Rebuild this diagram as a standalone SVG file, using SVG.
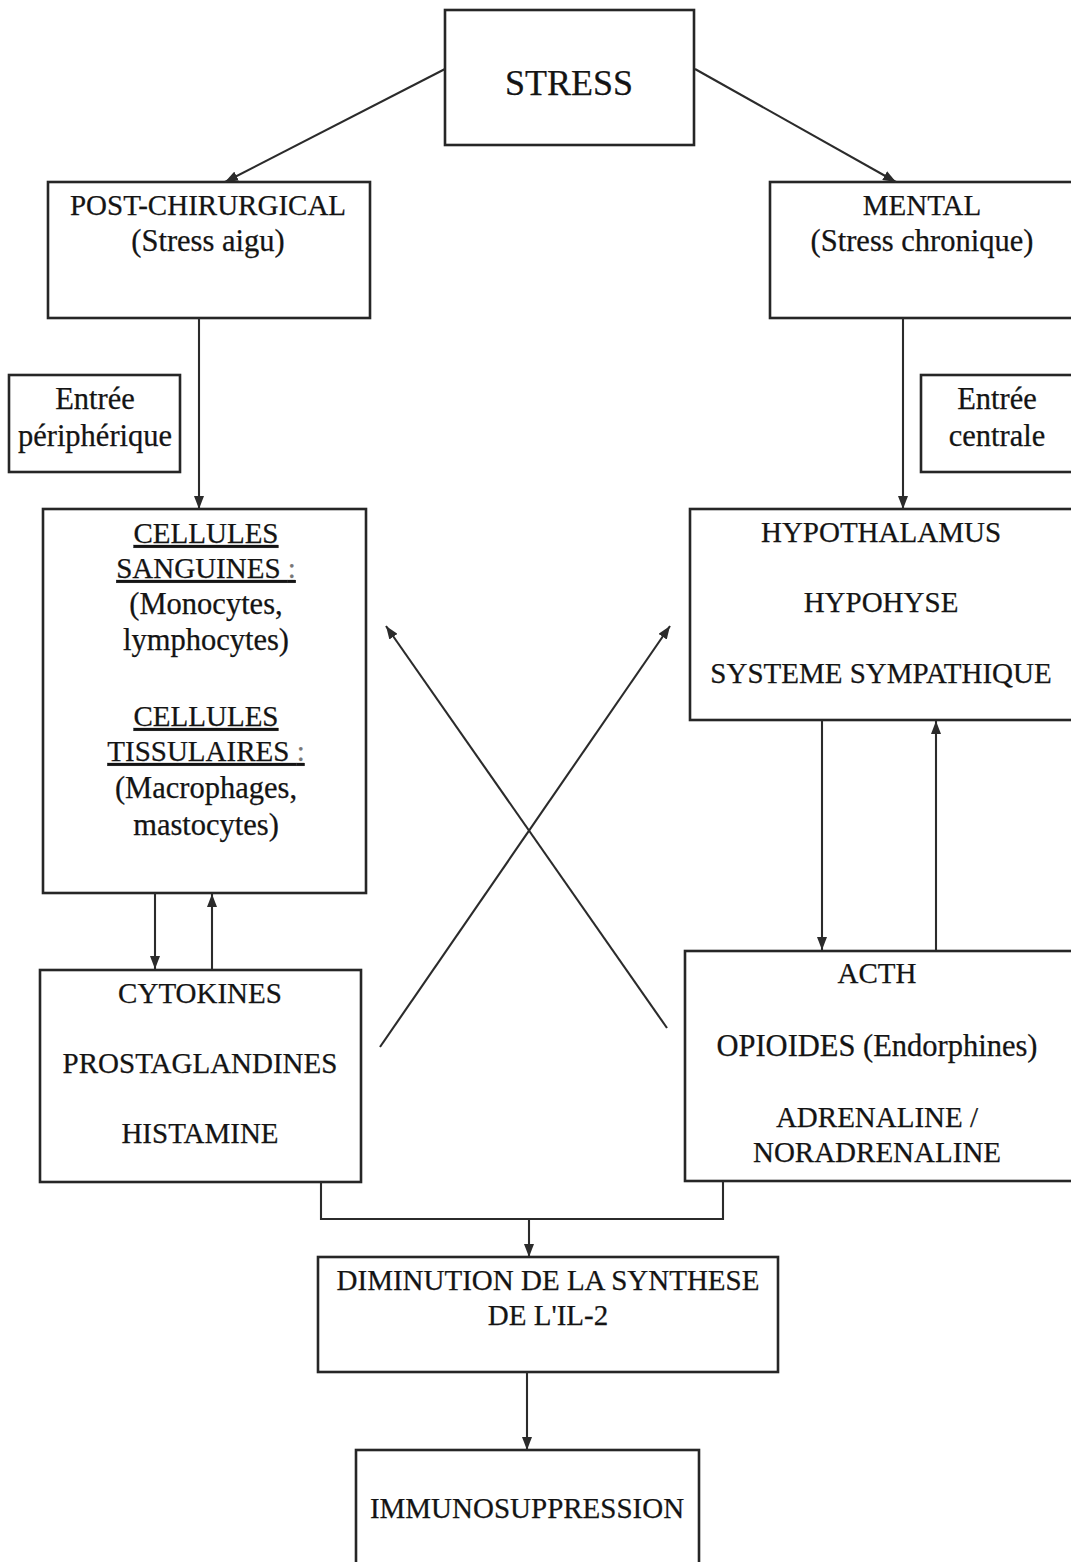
<svg xmlns="http://www.w3.org/2000/svg" width="1071" height="1562" viewBox="0 0 1071 1562">
<style>
.box{fill:none;stroke:#262626;stroke-width:2.6}
.ln{fill:none;stroke:#2b2b2b;stroke-width:2.1}
text{font-family:"Liberation Serif","Times New Roman",serif;fill:#141414;text-anchor:middle;stroke:#141414;stroke-width:0.25}
.c{font-size:29px}
.m{font-size:30.5px}
.u{text-decoration:underline}
.g{fill:#777;stroke:#777}
</style>
<defs>
<marker id="ah" viewBox="0 0 13 10" refX="13" refY="5" markerWidth="13" markerHeight="10" markerUnits="userSpaceOnUse" orient="auto">
<path d="M0,0 L13,5 L0,10 Z" fill="#2b2b2b"/>
</marker>
</defs>
<rect width="1071" height="1562" fill="#fff"/>

<g id="stress">
<rect class="box" x="445" y="10" width="249" height="135"/>
<text x="569" y="95" style="font-size:36px">STRESS</text>
</g>

<g id="postchir">
<rect class="box" x="48" y="182" width="322" height="136"/>
<text class="c" x="208" y="215">POST-CHIRURGICAL</text>
<text class="m" x="208" y="251">(Stress aigu)</text>
</g>

<g id="mental">
<rect class="box" x="770" y="182" width="320" height="136"/>
<text class="c" x="922" y="215">MENTAL</text>
<text class="m" x="922" y="251">(Stress chronique)</text>
</g>

<g id="entree-periph">
<rect class="box" x="9" y="375" width="171" height="97"/>
<text class="m" x="95" y="409">Entrée</text>
<text class="m" x="95" y="446">périphérique</text>
</g>

<g id="entree-centrale">
<rect class="box" x="921" y="375" width="170" height="97"/>
<text class="m" x="997" y="409">Entrée</text>
<text class="m" x="997" y="446">centrale</text>
</g>

<g id="cellules">
<rect class="box" x="43" y="509" width="323" height="384"/>
<text class="c u" x="206" y="543">CELLULES</text>
<text class="c u" x="206" y="578">SANGUINES <tspan class="g">:</tspan></text>
<text class="m" x="206" y="614">(Monocytes,</text>
<text class="m" x="206" y="650">lymphocytes)</text>
<text class="c u" x="206" y="726">CELLULES</text>
<text class="c u" x="206" y="761">TISSULAIRES <tspan class="g">:</tspan></text>
<text class="m" x="206" y="798">(Macrophages,</text>
<text class="m" x="206" y="835">mastocytes)</text>
</g>

<g id="hypothalamus">
<rect class="box" x="690" y="509" width="400" height="211"/>
<text class="c" x="881" y="542">HYPOTHALAMUS</text>
<text class="c" x="881" y="612">HYPOHYSE</text>
<text class="c" x="881" y="683">SYSTEME SYMPATHIQUE</text>
</g>

<g id="cytokines">
<rect class="box" x="40" y="970" width="321" height="212"/>
<text class="c" x="200" y="1003">CYTOKINES</text>
<text class="c" x="200" y="1073">PROSTAGLANDINES</text>
<text class="c" x="200" y="1143">HISTAMINE</text>
</g>

<g id="acth">
<rect class="box" x="685" y="951" width="405" height="230"/>
<text class="c" x="877" y="983">ACTH</text>
<text class="m" x="877" y="1056">OPIOIDES (Endorphines)</text>
<text class="c" x="877" y="1127">ADRENALINE /</text>
<text class="c" x="877" y="1162">NORADRENALINE</text>
</g>

<g id="diminution">
<rect class="box" x="318" y="1257" width="460" height="115"/>
<text class="c" x="548" y="1290">DIMINUTION DE LA SYNTHESE</text>
<text class="c" x="548" y="1325">DE L'IL-2</text>
</g>

<g id="immuno">
<rect class="box" x="356" y="1450" width="343" height="140"/>
<text class="c" x="527" y="1518">IMMUNOSUPPRESSION</text>
</g>

<g id="connectors">
<line class="ln" x1="445" y1="69" x2="225" y2="182" marker-end="url(#ah)"/>
<line class="ln" x1="695" y1="69" x2="896" y2="182" marker-end="url(#ah)"/>
<line class="ln" x1="199" y1="318" x2="199" y2="509" marker-end="url(#ah)"/>
<line class="ln" x1="903" y1="318" x2="903" y2="509" marker-end="url(#ah)"/>
<line class="ln" x1="155" y1="893" x2="155" y2="969" marker-end="url(#ah)"/>
<line class="ln" x1="212" y1="969" x2="212" y2="894" marker-end="url(#ah)"/>
<line class="ln" x1="822" y1="720" x2="822" y2="950" marker-end="url(#ah)"/>
<line class="ln" x1="936" y1="950" x2="936" y2="721" marker-end="url(#ah)"/>
<line class="ln" x1="380" y1="1047" x2="670" y2="626" marker-end="url(#ah)"/>
<line class="ln" x1="667" y1="1028" x2="386" y2="626" marker-end="url(#ah)"/>
<polyline class="ln" points="321,1182 321,1219 723,1219 723,1181"/>
<line class="ln" x1="529" y1="1219" x2="529" y2="1257" marker-end="url(#ah)"/>
<line class="ln" x1="527" y1="1372" x2="527" y2="1450" marker-end="url(#ah)"/>
</g>
</svg>
